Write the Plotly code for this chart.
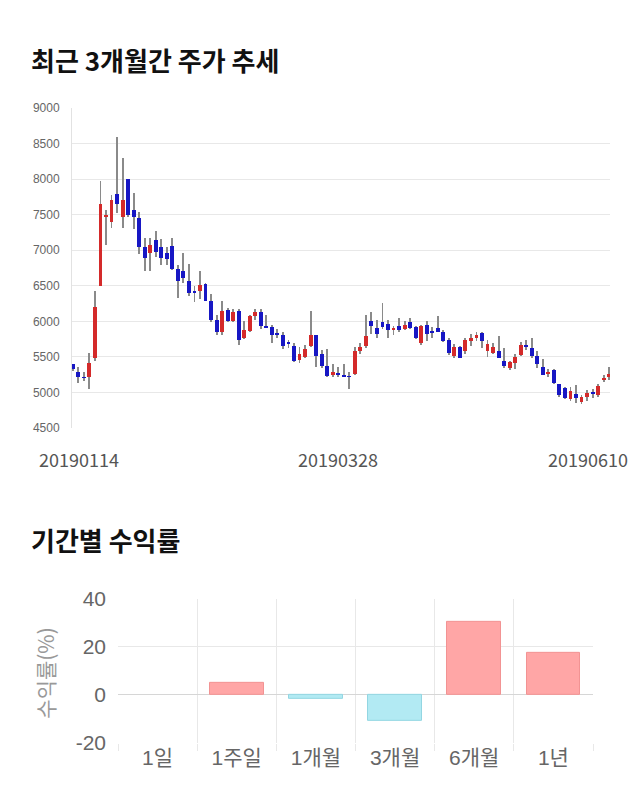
import plotly.graph_objects as go

# ---- candlestick data (trading-day index order) ----
open_ = [5390, 5290, 5210, 5210, 5475, 6500, 7465, 7400, 7790, 7460,
         8000, 7560, 7450, 7045, 6955, 7135, 7045, 6955, 7055, 6735,
         6710, 6570, 6410, 6425, 6525, 6285, 6010, 5840, 6160, 6005,
         6140, 5760, 5860, 6065, 6130, 5925, 5920, 5815, 5805, 5690,
         5655, 5450, 5500, 5655, 5805, 5530, 5370, 5240, 5260, 5235,
         5220, 5255, 5585, 5655, 6005, 5905, 5985, 5965, 5875, 5930,
         5885, 5985, 5915, 5685, 5950, 5845, 5905, 5840, 5730, 5505,
         5630, 5575, 5720, 5760, 5830, 5585, 5550, 5585, 5440, 5340,
         5415, 5520, 5665, 5620, 5505, 5355, 5255, 5310, 5110, 5065,
         4900, 4970, 4855, 4935, 4995, 4960, 5175, 5220]
high_ = [5400, 5350, 5280, 5550, 6420, 7975, 7560, 7770, 8590, 8290,
         8000, 7810, 7540, 7170, 7170, 7265, 7160, 7045, 7165, 6795,
         6955, 6800, 6490, 6710, 6535, 6375, 6080, 6290, 6190, 6170,
         6170, 5995, 6090, 6170, 6170, 6090, 5940, 5885, 5840, 5730,
         5690, 5630, 5665, 6145, 5805, 5600, 5610, 5400, 5350, 5400,
         5280, 5630, 5685, 6090, 6125, 6010, 6260, 6010, 5930, 6040,
         5995, 6040, 5930, 5940, 5995, 5920, 6065, 5870, 5760, 5675,
         5655, 5760, 5825, 5850, 5840, 5735, 5690, 5795, 5625, 5440,
         5530, 5705, 5735, 5760, 5585, 5460, 5325, 5320, 5120, 5075,
         5075, 5095, 4960, 5030, 5045, 5110, 5235, 5355]
low_ = [5300, 5130, 5160, 5040, 5440, 6490, 7070, 7310, 7515, 7310,
        7470, 7300, 6950, 6710, 6710, 6900, 6785, 6785, 6715, 6330,
        6535, 6350, 6270, 6305, 6280, 5985, 5800, 5800, 5985, 5985,
        5660, 5750, 5850, 6010, 5885, 5905, 5690, 5765, 5610, 5620,
        5430, 5415, 5485, 5640, 5355, 5340, 5220, 5210, 5210, 5210,
        5040, 5245, 5540, 5620, 5815, 5760, 5885, 5760, 5805, 5850,
        5870, 5885, 5750, 5665, 5720, 5760, 5840, 5700, 5520, 5475,
        5475, 5540, 5655, 5715, 5620, 5495, 5540, 5475, 5345, 5310,
        5325, 5505, 5600, 5485, 5340, 5235, 5210, 5120, 4925, 4900,
        4870, 4845, 4835, 4880, 4915, 4925, 5140, 5165]
close_ = [5320, 5210, 5200, 5415, 6205, 7645, 7500, 7700, 7645, 7700,
          7490, 7470, 7045, 6885, 7065, 6970, 6890, 6870, 6735, 6570,
          6610, 6390, 6400, 6515, 6285, 6010, 5840, 6145, 6000, 6125,
          5735, 5875, 6065, 6130, 5925, 5915, 5805, 5810, 5645, 5685,
          5440, 5530, 5605, 5805, 5505, 5370, 5225, 5280, 5255, 5215,
          5215, 5585, 5640, 5795, 5925, 5825, 5915, 5870, 5900, 5870,
          5950, 5905, 5760, 5930, 5815, 5840, 5850, 5720, 5550, 5630,
          5485, 5735, 5765, 5805, 5725, 5680, 5630, 5485, 5370, 5425,
          5500, 5665, 5645, 5505, 5400, 5245, 5290, 5130, 4960, 4915,
          5020, 4915, 4935, 4995, 4975, 5085, 5200, 5255]

date_labels = ["20190114", "20190328", "20190610"]
date_label_idx = [0, 48, 97]
price_ticks = [4500, 5000, 5500, 6000, 6500, 7000, 7500, 8000, 8500, 9000]

# ---- period returns ----
periods = ["1일", "1주일", "1개월", "3개월", "6개월", "1년"]
returns = [0.0, 4.8, -1.8, -10.8, 30.2, 17.6]
return_ticks = [-20, 0, 20, 40]

UP = "#d42a2a"
DOWN = "#1717c4"
WICK = "#8a8a8a"
GRID = "#e8e8e8"

idx = list(range(len(open_)))
body_base = [min(o, c) for o, c in zip(open_, close_)]
body_h = [max(abs(c - o), 12) for o, c in zip(open_, close_)]
body_col = [UP if c > o else DOWN for o, c in zip(open_, close_)]

fig = go.Figure()

# wicks
fig.add_trace(go.Bar(
    x=idx, base=low_, y=[h - l for h, l in zip(high_, low_)],
    width=0.16, marker=dict(color=WICK, line=dict(width=0)),
    xaxis="x", yaxis="y", showlegend=False, hoverinfo="skip"))
# bodies
fig.add_trace(go.Bar(
    x=idx, base=body_base, y=body_h,
    width=0.7, marker=dict(color=body_col, line=dict(width=0)),
    xaxis="x", yaxis="y", showlegend=False,
    customdata=list(zip(open_, high_, low_, close_)),
    hovertemplate="O %{customdata[0]}<br>H %{customdata[1]}<br>L %{customdata[2]}<br>C %{customdata[3]}<extra></extra>"))

# returns bars
ret_fill = ["#ffa6a6" if v >= 0 else "#b2eaf3" for v in returns]
ret_line = ["#f29393" if v >= 0 else "#93d6e2" for v in returns]
ret_lw = [1 if v != 0 else 0 for v in returns]
fig.add_trace(go.Bar(
    x=periods, y=returns, width=0.68,
    marker=dict(color=ret_fill, line=dict(color=ret_line, width=ret_lw)),
    xaxis="x2", yaxis="y2", showlegend=False))

W, H = 640, 810
def px(v):
    return v / W
def py(v):
    return 1 - v / H

NUMFONT = "Liberation Sans, Arial, Noto Sans CJK KR, sans-serif"
KRFONT = "Noto Sans CJK KR, sans-serif"

fig.update_layout(
    width=W, height=H, autosize=False,
    margin=dict(l=0, r=0, t=0, b=0),
    paper_bgcolor="white", plot_bgcolor="white",
    barmode="overlay", bargap=0,
    font=dict(family=NUMFONT, color="#666"),
    xaxis=dict(domain=[px(72), px(610)], range=[-0.15, 97.15],
               showticklabels=False, showgrid=False, zeroline=False,
               ticks="", anchor="y", fixedrange=True),
    yaxis=dict(domain=[py(428), py(99)], range=[4500, 9000],
               tickvals=price_ticks, showgrid=True, gridcolor=GRID, gridwidth=1,
               zeroline=False, showline=True, linecolor="#e2e2e2", linewidth=1,
               tickfont=dict(size=12, color="#666", family=NUMFONT),
               ticklabelstandoff=9, anchor="x", fixedrange=True),
    xaxis2=dict(domain=[px(118), px(593)], type="category",
                tickson="boundaries", showgrid=True, gridcolor=GRID,
                ticks="outside", ticklen=7, tickcolor=GRID,
                tickfont=dict(size=21, color="#666", family=NUMFONT),
                zeroline=False, showline=False, anchor="y2", fixedrange=True),
    yaxis2=dict(domain=[py(752), py(604)], range=[-20, 40],
                tickvals=return_ticks, ticktext=[str(t) for t in return_ticks],
                showgrid=True, gridcolor=GRID,
                zeroline=True, zerolinecolor="#d6d6d6", zerolinewidth=1,
                tickfont=dict(size=21, color="#666", family=NUMFONT),
                ticklabelstandoff=11, anchor="x2", fixedrange=True),
)

annotations = [
    dict(text="<b>최근 3개월간 주가 추세</b>", x=px(29), y=py(49), xref="paper", yref="paper",
         xanchor="left", yanchor="middle", showarrow=False,
         font=dict(size=26, color="#111", family=KRFONT)),
    dict(text="<b>기간별 수익률</b>", x=px(29), y=py(543), xref="paper", yref="paper",
         xanchor="left", yanchor="middle", showarrow=False,
         font=dict(size=26, color="#111", family=KRFONT)),
    dict(text="수익률(%)", x=px(45), y=py(680), xref="paper", yref="paper",
         xanchor="center", yanchor="middle", showarrow=False, textangle=-90,
         font=dict(size=21, color="#999", family=KRFONT)),
]
anchors = ["center", "center", "right"]
shifts = [6, 0, 21]
for lbl, i, a, s in zip(date_labels, date_label_idx, anchors, shifts):
    annotations.append(dict(text=lbl, x=i, y=py(460), xref="x", yref="paper",
                            xanchor=a, yanchor="middle", xshift=s, showarrow=False,
                            font=dict(size=18, color="#555", family=KRFONT)))
fig.update_layout(annotations=annotations)

fig.write_html("out.html")
